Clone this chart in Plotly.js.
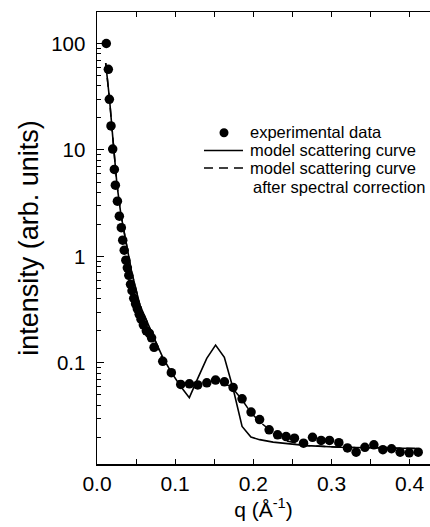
<!DOCTYPE html>
<html>
<head>
<meta charset="utf-8">
<script src="https://cdn.plot.ly/plotly-3.0.1.min.js"></script>
<style>html,body{margin:0;padding:0;background:#fff;overflow:hidden;}#chart{width:430px;height:527px;}</style>
</head>
<body>
<div id="chart"></div>
<script>
// experimental data
const expQ = [0.0119,0.0145,0.0158,0.0179,0.0201,0.0222,0.0235,0.0261,0.0286,0.0311,0.0329,0.0348,0.0369,0.0388,0.0407,0.0429,0.0448,0.0470,0.0493,0.0516,0.0540,0.0563,0.0593,0.0631,0.0670,0.0698,0.0730,0.0841,0.0951,0.1071,0.1182,0.1289,0.1405,0.1517,0.1630,0.1741,0.1856,0.1971,0.2080,0.2202,0.2310,0.2419,0.2526,0.2642,0.2757,0.2867,0.2974,0.3094,0.3204,0.3315,0.3427,0.3542,0.3657,0.3768,0.3878,0.3994,0.4109];
const expI = [100,57.2,29.9,16.8,10.19,6.56,4.67,3.30,2.39,1.86,1.42,1.143,0.921,0.782,0.665,0.547,0.476,0.404,0.359,0.322,0.286,0.257,0.228,0.200,0.189,0.172,0.140,0.1033,0.0809,0.0628,0.0635,0.0621,0.0649,0.0689,0.0663,0.0588,0.0459,0.0345,0.0293,0.0235,0.0211,0.0203,0.0196,0.0176,0.0200,0.0187,0.0187,0.0178,0.0159,0.0145,0.0161,0.0170,0.0153,0.0156,0.0145,0.0143,0.0145];
// model scattering curve
const modelQ = [0.0111,0.0160,0.0205,0.0256,0.0307,0.0371,0.0444,0.0550,0.0657,0.0755,0.0841,0.0951,0.1071,0.1181,0.1289,0.1404,0.1517,0.1629,0.1741,0.1856,0.1969,0.2080,0.2253,0.2470,0.2684,0.3110,0.3533,0.4096];
const modelI = [65.6,30.1,12.38,4.67,2.44,1.42,0.710,0.347,0.225,0.156,0.1126,0.0814,0.0601,0.0471,0.0715,0.1102,0.147,0.1126,0.0575,0.0253,0.0201,0.0190,0.0180,0.0174,0.0167,0.0161,0.0159,0.0157];
// model scattering curve after spectral correction
const corrQ = [0.0111,0.0160,0.0205,0.0256,0.0307,0.0371,0.0444,0.0550,0.0657,0.0755,0.0841,0.0951,0.1071,0.1181,0.1289,0.1404,0.1517,0.1629,0.1741,0.1856,0.1969,0.2080,0.2202,0.2310,0.2419,0.2684,0.3110,0.3533,0.4096];
const corrI = [65.6,30.1,12.38,4.67,2.44,1.42,0.710,0.347,0.225,0.156,0.105,0.081,0.064,0.062,0.063,0.066,0.068,0.065,0.057,0.045,0.034,0.028,0.0235,0.0205,0.0185,0.0167,0.0161,0.0159,0.0157];
const yTickVals = [0.1,1,10,100];
const yTickText = ['0.1','1','10','100'];
const legendLabels = ['experimental data','model scattering curve','model scattering curve','after spectral correction'];

const font = 'Arial, "Liberation Sans", sans-serif';
const traces = [
  {x: corrQ, y: corrI, type:'scatter', mode:'lines', name: 'model scattering curve after spectral correction',
   line:{color:'#000', width:1.5, dash:'9px,6px'}},
  {x: modelQ, y: modelI, type:'scatter', mode:'lines', name: legendLabels[1],
   line:{color:'#000', width:1.6}},
  {x: expQ, y: expI, type:'scatter', mode:'markers', name: legendLabels[0],
   marker:{symbol:'circle', size:9.5, color:'#000'}}
];

// hand-built legend (paper coordinates), to reproduce the compact spacing
const lgX = 0.4535, lgSymX0 = 0.3213, lgSymX1 = 0.4384;
const lgY = [0.7354, 0.6936, 0.6549, 0.6135];
const annotations = legendLabels.map((t, i) => ({
  xref:'paper', yref:'paper', x: i === 3 ? lgX + 0.008 : lgX, y: lgY[i],
  xanchor:'left', yanchor:'middle', showarrow:false, text:t,
  font:{size:16.5, family:font, color:'#000'}
}));
const shapes = [
  {type:'circle', xref:'paper', yref:'paper', x0:0.3679, x1:0.3949, y0:0.7230, y1:0.7429,
   fillcolor:'#000', line:{width:0}},
  {type:'line', xref:'paper', yref:'paper', x0:lgSymX0, x1:lgSymX1, y0:lgY[1], y1:lgY[1],
   line:{color:'#000', width:1.6}},
  {type:'line', xref:'paper', yref:'paper', x0:lgSymX0, x1:lgSymX1, y0:lgY[2], y1:lgY[2],
   line:{color:'#000', width:1.6, dash:'9px,6px'}}
];

const layout = {
  width:430, height:527,
  margin:{l:97, r:0, t:12, b:63},
  paper_bgcolor:'#fff', plot_bgcolor:'#fff',
  font:{family:font, color:'#000'},
  showlegend:false,
  annotations: annotations,
  shapes: shapes,
  xaxis:{range:[0,0.426], dtick:0.1, tick0:0, tickformat:'.1f',
         ticks:'inside', ticklen:5, tickwidth:1, tickcolor:'#000',
         minor:{dtick:0.05, ticks:'inside', ticklen:5, tickcolor:'#000', showgrid:false},
         showline:true, linecolor:'#000', linewidth:1.5, mirror:'ticks',
         showgrid:false, zeroline:false,
         tickfont:{size:21, family:font},
         title:{text:'q (Å<sup>-1</sup>)', font:{size:21, family:font}, standoff:8}},
  yaxis:{type:'log', range:[-1.950, 2.296], tickvals:yTickVals, ticktext:yTickText,
         ticks:'inside', ticklen:7, tickwidth:1, tickcolor:'#000',
         minor:{dtick:'D1', ticks:'inside', ticklen:4, tickcolor:'#000', showgrid:false},
         showline:true, linecolor:'#000', linewidth:1.5,
         showgrid:false, zeroline:false, ticklabelstandoff:6,
         tickfont:{size:20.5, family:font},
         title:{text:'intensity (arb. units)', font:{size:27, family:font}, standoff:4}}
};
Plotly.newPlot('chart', traces, layout, {displayModeBar:false, staticPlot:true});
</script>
</body>
</html>
